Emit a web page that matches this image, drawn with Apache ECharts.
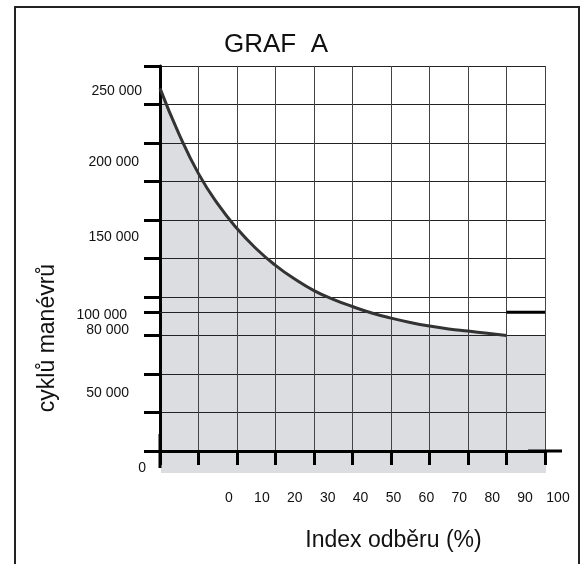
<!DOCTYPE html>
<html>
<head>
<meta charset="utf-8">
<script src="https://cdn.jsdelivr.net/npm/echarts@6.0.0/dist/echarts.min.js"></script>
<style>
html,body{margin:0;padding:0;background:#fff;}
#chart{width:584px;height:564px;}
</style>
</head>
<body>
<div id="chart"></div>
<script>
// ---------------- data ----------------
const titleText = 'GRAF  A';
const xAxisTitle = 'Index odběru (%)';
const yAxisTitle = 'cyklů manévrů';
const xLabelValues = [0, 10, 20, 30, 40, 50, 60, 70, 80, 90, 100];
const yLabelValues = [0, 50000, 80000, 100000, 150000, 200000, 250000];
const yLabelTexts = ['0', '50 000', '80 000', '100 000', '150 000', '200 000', '250 000'];
const curveX = [0, 5, 10, 15, 20, 25, 30, 35, 40, 45, 50, 55, 60, 65, 70, 75, 80, 85, 90];
const curveY = [251000, 219000, 192000, 171000, 154000, 140000, 128500, 119000, 111000, 105000,
                100000, 95500, 92000, 89000, 86500, 84500, 83000, 81500, 80000];
const plateauX = [90, 100];
const plateauY = [80000, 80000];
const limitX = [90, 100];
const limitY = [96000, 96000];
// axis scale
const xMin = 0, xMax = 100, xStep = 10;
const yMin = 0, yStep = 26650, yMax = 266500;

// ---------------- styling ----------------
const FONT = "'Liberation Sans', Arial, Helvetica, sans-serif";
const GRAY = '#dcdde0';
const GRID_V = '#444';
const GRID_H = '#222';
// per-label nudges of the hand-placed y labels: [shift down px, extra right gap px]
const yLabelNudge = {
  0: [17.5, 0], 50000: [14, 17], 80000: [-5, 17], 100000: [8.5, 19],
  150000: [2.5, 7], 200000: [0, 7], 250000: [1, 4]
};

const zip = (xs, ys) => xs.map((x, i) => [x, ys[i]]);
const curveData = zip(curveX, curveY);
const fillData = curveData.concat(zip(plateauX, plateauY).slice(1));
const limitData = zip(limitX, limitY);

const yTickValues = [];
for (let v = yMin; v <= yMax + 1e-6; v += yStep) yTickValues.push(v);
yTickValues.push(limitY[0]);
yTickValues.sort((a, b) => a - b);

const rich = {};
yLabelValues.forEach((v, i) => {
  const n = yLabelNudge[v] || [0, 0];
  rich['l' + i] = {
    fontSize: 14, fontFamily: FONT, color: '#111',
    padding: [Math.max(2 * n[0], 0), n[1], Math.max(-2 * n[0], 0), 0]
  };
});

const chart = echarts.init(document.getElementById('chart'), null, {renderer: 'canvas'});
const option = {
  animation: false,
  backgroundColor: '#fff',
  grid: [
    {left: 160, right: 39, top: 66, bottom: 113, outerBoundsMode: 'none', containLabel: false},
    {left: 229, right: 26, top: 480, height: 1, outerBoundsMode: 'none', containLabel: false},
    {left: 161, right: 38, top: 451, height: 22, show: true, backgroundColor: GRAY, borderWidth: 0, outerBoundsMode: 'none', containLabel: false}
  ],
  xAxis: [
    {
      gridIndex: 0, type: 'value', min: xMin, max: xMax, interval: xStep, z: 3,
      axisLine: {show: true, onZero: true, symbol: ['none', 'rect'], symbolSize: [3, 34],
        lineStyle: {color: '#000', width: 3}},
      axisTick: {show: true, inside: false, length: 14, lineStyle: {color: '#000', width: 3}},
      axisLabel: {show: false},
      splitLine: {show: true, lineStyle: {color: GRID_V, width: 1, type: 'solid'}}
    },
    {
      gridIndex: 1, type: 'value', min: xMin, max: xMax, interval: xStep,
      axisLine: {show: false}, axisTick: {show: false}, splitLine: {show: false},
      axisLabel: {show: true, margin: 10, fontSize: 14, fontFamily: FONT, color: '#111',
        customValues: xLabelValues},
      name: xAxisTitle, nameLocation: 'middle', nameGap: 48, nameMoveOverlap: false,
      nameTextStyle: {fontSize: 23, fontFamily: FONT, color: '#111'}
    },
    {gridIndex: 2, type: 'value', min: 0, max: 1, show: false}
  ],
  yAxis: [
    {
      gridIndex: 0, type: 'value', min: yMin, max: yMax, interval: yStep, z: 3,
      axisLine: {show: true, symbol: ['rect', 'none'], symbolSize: [3, 34],
        lineStyle: {color: '#000', width: 3}},
      axisTick: {show: true, inside: false, length: 16, customValues: yTickValues,
        lineStyle: {color: '#000', width: 3}},
      axisLabel: {
        show: true, margin: 14, customValues: yLabelValues,
        formatter: (v) => {
          let i = yLabelValues.findIndex(x => Math.abs(x - v) < 1);
          return i < 0 ? '' : '{l' + i + '|' + yLabelTexts[i] + '}';
        },
        rich: rich
      },
      splitLine: {show: true, lineStyle: {color: GRID_H, width: 1, type: 'solid'}}
    },
    {gridIndex: 1, type: 'value', min: 0, max: 1, show: false},
    {gridIndex: 2, type: 'value', min: 0, max: 1, show: false}
  ],
  series: [
    {
      name: 'fill', type: 'line', xAxisIndex: 0, yAxisIndex: 0, data: fillData,
      smooth: 0.5, symbol: 'none', silent: true, z: 1,
      lineStyle: {width: 0, opacity: 0},
      areaStyle: {color: GRAY, opacity: 1, origin: 'start'}
    },
    {
      name: 'curve', type: 'line', xAxisIndex: 0, yAxisIndex: 0, data: curveData,
      smooth: 0.5, symbol: 'none', silent: true, z: 5,
      lineStyle: {color: '#333', width: 3}
    },
    {
      name: 'limit', type: 'line', xAxisIndex: 0, yAxisIndex: 0, data: limitData,
      symbol: 'none', silent: true, z: 5,
      lineStyle: {color: '#000', width: 3},
      markLine: {
        symbol: 'none', silent: true, label: {show: false},
        lineStyle: {color: GRID_H, width: 1, type: 'solid'},
        data: [{yAxis: limitY[0]}]
      }
    }
  ],
  graphic: [
    {type: 'rect', shape: {x: 15, y: 7, width: 564, height: 620}, silent: true,
      style: {fill: 'none', stroke: '#222', lineWidth: 2}},
    {type: 'text', x: 224, y: 45, silent: true,
      style: {text: titleText, font: '26px ' + FONT, fill: '#111', align: 'left', verticalAlign: 'middle'}},
    {type: 'text', x: 48, y: 338, rotation: Math.PI / 2, silent: true,
      style: {text: yAxisTitle, font: '23px ' + FONT, fill: '#111', align: 'center', verticalAlign: 'middle'}}
  ]
};
chart.setOption(option);
</script>
</body>
</html>
